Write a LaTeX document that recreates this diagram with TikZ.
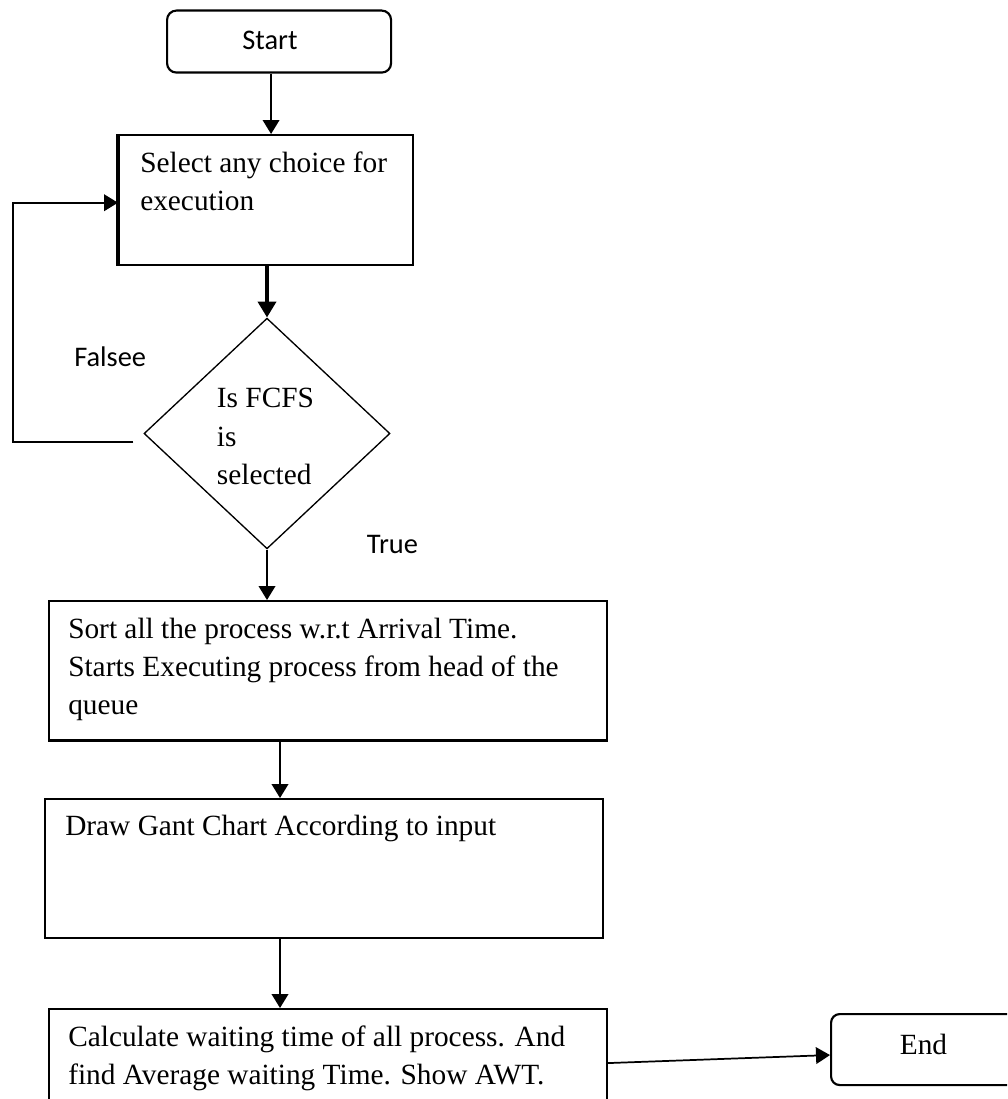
\documentclass[tikz,border=0pt]{standalone}
\usepackage{fontspec}
\setmainfont{Liberation Serif}
\newfontfamily\labelsans{Carlito}
\usetikzlibrary{shapes.geometric,arrows.meta,calc}

\begin{document}
\begin{tikzpicture}[x=0.75pt,y=-0.75pt,
  box/.style={draw, line width=1.6pt, inner sep=0pt, anchor=north west},
  term/.style={box, rounded corners=7pt},
  txt/.style={inner sep=0pt, anchor=north west, align=left,
    font=\fontsize{22}{28.7}\selectfont},
  sanslbl/.style={inner sep=0pt, font=\labelsans\fontsize{21.3}{25}\selectfont},
  seriflbl/.style={inner sep=0pt, font=\fontsize{22}{26}\selectfont},
  link/.style={line width=1.3pt, -{Triangle[length=10.5pt,width=12.5pt]}},
  heavylink/.style={line width=3pt, -{Triangle[length=12pt,width=13.5pt]}},
  decision/.style={draw, diamond, line width=1pt, inner sep=0pt,
    minimum width=184.5pt, minimum height=173pt}]

\clip (0,0) rectangle (1007,1099);
\fill[white] (0,0) rectangle (1007,1099);

% terminals and process boxes
\node[term, minimum width=168pt, minimum height=46.5pt] (start) at (166,9.5) {};
\node[sanslbl, anchor=base] (startlbl) at (270,50) {Start};

\node[box, minimum width=220.5pt, minimum height=97.5pt] (select) at (118,134) {};
\draw[line width=2.6pt] (select.north west) -- (select.south west);
\node[txt] (selecttxt) at (140,148) {\rule{0pt}{18pt}Select any choice for\\execution};

\node[decision] (dia) at (267,433.5) {};
\node[txt] (diatxt) at (216.7,383.7) {\rule{0pt}{18pt}Is FCFS\\is\\selected};

\node[box, minimum width=418.5pt, minimum height=104.6pt] (sort) at (48,600) {};
\node[txt] (sorttxt) at (68,614) {\rule{0pt}{18pt}Sort all the process w.r.t Arrival Time.\\Starts Executing process from head of the\\queue};

\node[box, minimum width=418.5pt, minimum height=104.25pt] (gant) at (44,798) {};
\node[txt] (ganttxt) at (65,811) {\rule{0pt}{18pt}Draw Gant Chart According to input};

\node[box, minimum width=418.5pt, minimum height=81pt] (calc) at (48,1008) {};
\node[txt] (calctxt) at (68,1022) {\rule{0pt}{18pt}Calculate waiting time of all process. And\\find Average waiting Time. Show AWT.};

\node[term, rounded corners=6.5pt, minimum width=140.25pt, minimum height=53.25pt] (end) at (830,1013) {};
\node[seriflbl, anchor=base] (endlbl) at (923.5,1054) {End};

% branch labels
\node[sanslbl, anchor=base west] (falselbl) at (74,366.7) {Falsee};
\node[sanslbl, anchor=base west] (truelbl) at (366.7,553.3) {True};

% connectors
\draw[link] ([xshift=-6pt]start.south) -- ([xshift=-6pt]start.south |- select.north);
\draw[heavylink] (select.south -| dia.north) -- (dia.north);
\draw[link] (dia.south) -- (dia.south |- sort.north);
\draw[link] ([xshift=174pt]sort.south west) -- ([xshift=174pt]sort.south west |- gant.north);
\draw[link] ([xshift=177pt]gant.south west) -- ([xshift=177pt]gant.south west |- calc.north);
\draw[link] (calc.east) -- ([yshift=-4.1pt]end.west);

% loop back when FCFS is not selected
\coordinate (fback) at ($(dia.west)+(-10,8.3)$);
\draw[link] (fback) -- ++(-120.5,0) |- ([yshift=-2pt]select.west);
\end{tikzpicture}
\end{document}
